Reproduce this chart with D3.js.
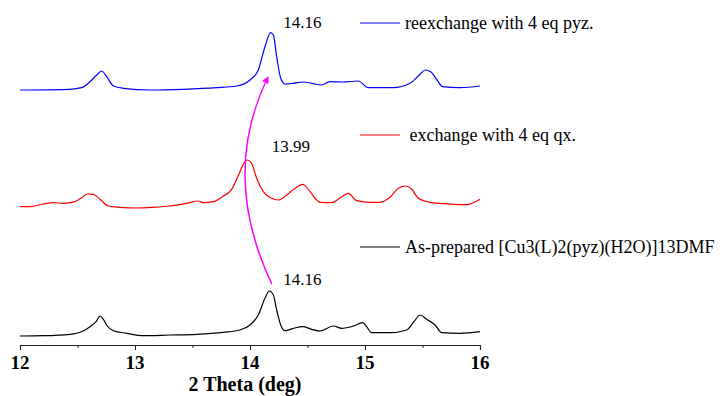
<!DOCTYPE html>
<html>
<head>
<meta charset="utf-8">
<script src="https://cdn.jsdelivr.net/npm/d3@7"></script>
<style>
  body { margin: 0; background: #fff; }
  text { font-family: "Liberation Serif", "Times New Roman", serif; fill: #000; }
  .tick-label { font-weight: bold; font-size: 19px; }
  .axis-title { font-weight: bold; font-size: 20px; }
  .legend-text { font-size: 18px; white-space: pre; }
  .peak-label { font-size: 17px; }
</style>
</head>
<body>
<svg id="chart" width="725" height="396"></svg>
<script>
// 2 theta / intensity (arbitrary units, baseline ~8)
const asPrepX = [12.000, 12.203, 12.435, 12.536, 12.609, 12.661, 12.696, 12.725, 12.759, 12.812, 12.928, 13.072, 13.304, 13.536, 13.768, 13.913, 14.000, 14.072, 14.130, 14.168, 14.203, 14.232, 14.267, 14.304, 14.377, 14.458, 14.536, 14.609, 14.725, 14.797, 14.899, 14.980, 15.014, 15.058, 15.217, 15.362, 15.426, 15.478, 15.536, 15.609, 15.667, 15.826, 16.000]
const asPrepY = [9, 9.3, 10.7, 13.3, 18.3, 23.3, 29, 25.7, 19, 14.3, 11.7, 9.3, 10, 10.7, 12.7, 15, 20, 30, 46.7, 54, 50, 35, 20, 14.3, 16.7, 18.3, 15.7, 14, 19, 16.7, 19, 22.3, 18.3, 12.3, 12.3, 15, 23.3, 30, 25.7, 20, 12.3, 11.7, 13.3]

const exchX = [12.000, 12.087, 12.203, 12.290, 12.377, 12.478, 12.536, 12.586, 12.638, 12.696, 12.768, 12.870, 13.014, 13.159, 13.304, 13.449, 13.551, 13.594, 13.681, 13.768, 13.841, 13.913, 13.942, 13.977, 14.014, 14.058, 14.116, 14.188, 14.246, 14.319, 14.391, 14.458, 14.522, 14.609, 14.710, 14.797, 14.855, 14.928, 15.043, 15.130, 15.217, 15.290, 15.357, 15.406, 15.464, 15.565, 15.652, 15.768, 15.884, 16.000]
const exchY = [8.3, 8.3, 11, 12.3, 11.7, 13.3, 17.3, 21, 20.7, 15.7, 9, 7.7, 7, 7.7, 9, 11.7, 14, 12.3, 13.3, 19, 25.7, 43.3, 51, 55, 51.7, 36.7, 23.3, 16.7, 15, 20, 26.7, 30.7, 23.3, 12.7, 12.3, 18.3, 21.7, 14.3, 12.7, 12.7, 17.7, 26.7, 29, 25.7, 16.7, 12.7, 11.7, 10.7, 10.3, 15.7]

const reexX = [12.000, 12.435, 12.536, 12.609, 12.667, 12.710, 12.754, 12.812, 12.899, 13.130, 13.420, 13.710, 13.884, 14.000, 14.072, 14.130, 14.180, 14.203, 14.232, 14.267, 14.304, 14.377, 14.464, 14.536, 14.623, 14.696, 14.812, 14.942, 15.029, 15.246, 15.391, 15.478, 15.522, 15.571, 15.617, 15.675, 15.826, 16.000]
const reexY = [8, 8.7, 10.3, 16.3, 23, 27, 21.3, 12, 9.7, 8, 8.7, 10.3, 12, 18, 28, 51.3, 65.3, 63, 41.3, 19.7, 14, 14.7, 16, 14.7, 13, 16.3, 16, 17, 10.3, 10.3, 14.7, 23.7, 28, 26.3, 19.7, 11.3, 10.3, 12]

const seriesNames = ["As-prepared [Cu3(L)2(pyz)(H2O)]13DMF", " exchange with 4 eq qx.", "reexchange with 4 eq pyz."]
const seriesColors = ["#000000", "#ff0000", "#0000ff"]
const seriesOffsets = [0, 130, 247]

const xTicks = [12, 13, 14, 15, 16]
const peakLabels = ["14.16", "13.99", "14.16"]

const series = [
  {x: asPrepX, y: asPrepY},
  {x: exchX, y: exchY},
  {x: reexX, y: reexY}
]

const svg = d3.select("#chart")
const margin = {left: 20, right: 245, top: 15, bottom: 51}
const W = 725, H = 396

const x = d3.scaleLinear().domain([12, 16]).range([margin.left, W - margin.right])
const y = d3.scaleLinear().domain([0, 330]).range([H - margin.bottom, margin.top])

const line = d3.line()
  .curve(d3.curveMonotoneX)
  .x(d => x(d[0]))
  .y(d => y(d[1]))

series.forEach((s, i) => {
  const pts = s.x.map((v, j) => [v, s.y[j] + seriesOffsets[i]])
  svg.append("path")
    .datum(pts)
    .attr("fill", "none")
    .attr("stroke", seriesColors[i])
    .attr("stroke-width", 1.2)
    .attr("stroke-linejoin", "round")
    .attr("d", line)
})

// x axis
const axisY = y(0)
const xAxis = d3.axisBottom(x)
  .tickValues(d3.range(12, 16.01, 0.5))
  .tickSize(5)
  .tickFormat("")
const gx = svg.append("g")
  .attr("transform", `translate(0,${axisY})`)
  .call(xAxis)
gx.select(".domain").attr("stroke", "#222").attr("stroke-width", 1.2)
gx.selectAll(".tick line")
  .attr("stroke", "#222")
  .attr("y2", d => Number.isInteger(d) ? 5 : 3)

svg.selectAll(".tick-label")
  .data(xTicks)
  .join("text")
  .attr("class", "tick-label")
  .attr("x", d => x(d))
  .attr("y", axisY + 24)
  .attr("text-anchor", "middle")
  .text(d => d)

svg.append("text")
  .attr("class", "axis-title")
  .attr("x", x(14) - 5)
  .attr("y", axisY + 46)
  .attr("text-anchor", "middle")
  .text("2 Theta (deg)")

// legend, one entry next to each trace
const legendY = [247, 135, 23]
seriesNames.forEach((name, i) => {
  svg.append("line")
    .attr("x1", 360).attr("x2", 400)
    .attr("y1", legendY[i]).attr("y2", legendY[i])
    .attr("stroke", seriesColors[i])
    .attr("stroke-width", 1)
  svg.append("text")
    .attr("class", "legend-text")
    .attr("x", 405)
    .attr("y", legendY[i] + 6)
    .text(name)
})

// peak labels
const peakPos = [[14.29, 60], [14.19, 193], [14.29, 317]]
peakLabels.forEach((t, i) => {
  svg.append("text")
    .attr("class", "peak-label")
    .attr("x", x(peakPos[2 - i][0]))
    .attr("y", y(peakPos[2 - i][1]))
    .text(t)
})

// curved arrow from the as-prepared peak up to the reexchanged peak
svg.append("defs").append("marker")
  .attr("id", "head")
  .attr("viewBox", "0 0 10 10")
  .attr("refX", 9).attr("refY", 5)
  .attr("markerWidth", 7).attr("markerHeight", 7)
  .attr("markerUnits", "userSpaceOnUse")
  .attr("orient", "auto")
  .append("path")
  .attr("d", "M0,0 L10,5 L0,10 z")
  .attr("fill", "#ff00ff")

const arrowStart = [14.19, 61], arrowCtrl = [13.74, 170], arrowEnd = [14.157, 268]
svg.append("path")
  .attr("fill", "none")
  .attr("stroke", "#ff00ff")
  .attr("stroke-width", 1.5)
  .attr("marker-end", "url(#head)")
  .attr("d", `M${x(arrowStart[0])},${y(arrowStart[1])} Q${x(arrowCtrl[0])},${y(arrowCtrl[1])} ${x(arrowEnd[0])},${y(arrowEnd[1])}`)
</script>
</body>
</html>
